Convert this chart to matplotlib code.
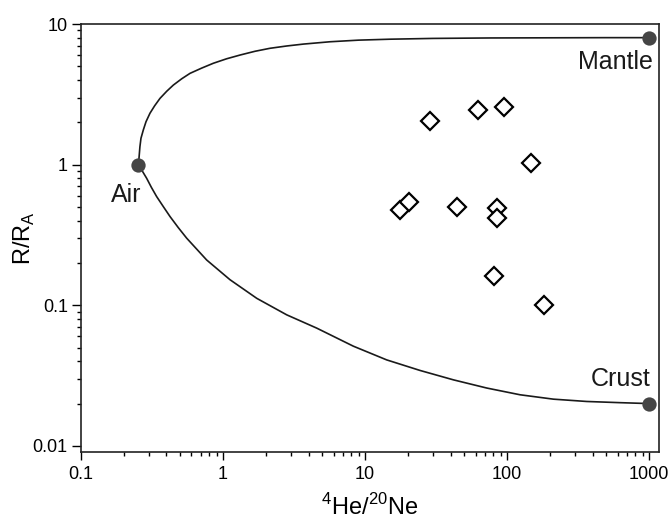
import matplotlib
matplotlib.use('Agg')
import matplotlib.pyplot as plt
from matplotlib.ticker import LogLocator, NullFormatter, FixedLocator, FixedFormatter

plt.rcParams['font.family'] = ['Liberation Sans', 'DejaVu Sans']
plt.rcParams['mathtext.fontset'] = 'custom'
plt.rcParams['mathtext.rm'] = 'Liberation Sans'

# end members
end_names = ['Air', 'Mantle', 'Crust']
end_x = [0.254, 1000, 1000]
end_y = [1.0, 8.0, 0.02]
label_offsets = [(-9, -21.5), (-24.5, -17.6), (-20.4, 17.9)]  # points

# mixing curve air -> mantle
mantle_x = [0.254, 0.260, 0.2645, 0.275, 0.287, 0.306, 0.330, 0.360, 0.402, 0.447,
            0.512, 0.586, 0.708, 0.855, 1.06, 1.32, 1.68, 2.14, 2.81, 3.68,
            5.67, 9.0, 15.0, 30.0, 75.9, 200, 500, 1000]
mantle_y = [1.0, 1.34, 1.54, 1.77, 2.02, 2.32, 2.62, 2.96, 3.33, 3.68,
            4.08, 4.46, 4.86, 5.26, 5.66, 6.02, 6.40, 6.72, 6.98, 7.20,
            7.48, 7.68, 7.80, 7.90, 7.96, 7.98, 8.0, 8.0]

# mixing curve air -> crust
crust_x = [0.254, 0.290, 0.313, 0.341, 0.380, 0.424, 0.484, 0.555, 0.767, 1.12,
           1.73, 2.81, 4.57, 8.27, 14.2, 24.4, 41.9, 71.9, 123.5, 212,
           364, 625, 1000]
crust_y = [1.0, 0.80, 0.690, 0.593, 0.503, 0.427, 0.357, 0.300, 0.210, 0.152,
           0.112, 0.0855, 0.0688, 0.0512, 0.0409, 0.0344, 0.0295, 0.0258, 0.0231, 0.0215,
           0.0207, 0.0203, 0.020]

# samples
he_ne = [28.7, 62.5, 94.8, 147.6, 17.6, 20.5, 44.3, 84.6, 84.6, 81.4, 183]
r_ra = [2.05, 2.45, 2.56, 1.03, 0.477, 0.546, 0.498, 0.490, 0.416, 0.162, 0.101]

fig = plt.figure(figsize=(6.72, 5.2), dpi=100)
ax = fig.add_axes([0.1205, 0.1314, 0.8602, 0.8224])

ax.plot(mantle_x, mantle_y, color='#1a1a1a', lw=1.2, zorder=2)
ax.plot(crust_x, crust_y, color='#1a1a1a', lw=1.2, zorder=2)
ax.plot(end_x, end_y, 'o', color='#454545', ms=10.3, mec='none', zorder=3)
ax.plot(he_ne, r_ra, 'D', mfc='white', mec='black', mew=1.6, ms=8.8, ls='none', zorder=4)

for name, x, y, off in zip(end_names, end_x, end_y, label_offsets):
    ax.annotate(name, (x, y), xytext=off, textcoords='offset points',
                fontsize=18, ha='center', va='center', color='#1a1a1a')

ax.set_xscale('log')
ax.set_yscale('log')
ax.set_xlim(0.1, 1175)
ax.set_ylim(0.0091, 10)

ax.xaxis.set_major_locator(FixedLocator([0.1, 1, 10, 100, 1000]))
ax.xaxis.set_major_formatter(FixedFormatter(['0.1', '1', '10', '100', '1000']))
ax.yaxis.set_major_locator(FixedLocator([0.01, 0.1, 1, 10]))
ax.yaxis.set_major_formatter(FixedFormatter(['0.01', '0.1', '1', '10']))
ax.xaxis.set_minor_locator(LogLocator(base=10, subs=range(2, 10), numticks=20))
ax.yaxis.set_minor_locator(LogLocator(base=10, subs=range(2, 10), numticks=20))
ax.xaxis.set_minor_formatter(NullFormatter())
ax.yaxis.set_minor_formatter(NullFormatter())

ax.tick_params(which='both', direction='out', top=False, right=False, width=1.0, labelsize=13)
ax.tick_params(axis='x', which='major', length=6, pad=4)
ax.tick_params(axis='y', which='major', length=6.5, pad=3)
ax.tick_params(which='minor', length=3.2)
for s in ax.spines.values():
    s.set_linewidth(1.2)
    s.set_color('#222222')

ax.set_xlabel(r'$^{4}$He/$^{20}$Ne', fontsize=17, labelpad=8)
ax.set_ylabel(r'R/R$_\mathregular{A}$', fontsize=17)
ax.yaxis.set_label_coords(-0.076, 0.5)

fig.savefig('out.png', dpi=100)
